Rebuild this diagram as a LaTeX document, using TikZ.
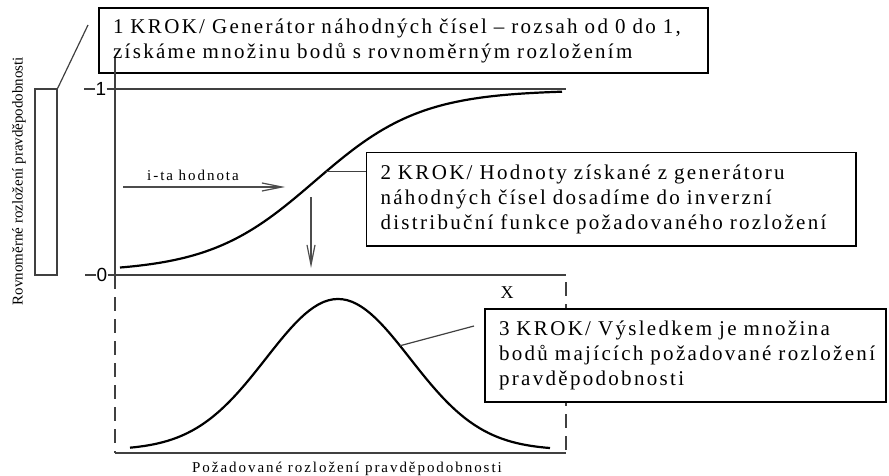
\documentclass[tikz,border=0pt]{standalone}
\usepackage{fontspec}
\setmainfont{Liberation Serif}
\newfontfamily\krokfont[LetterSpace=11]{Liberation Serif}
\newfontfamily\labelfont[LetterSpace=13]{Liberation Serif}
\newfontfamily\tickfont{Liberation Sans}
\usetikzlibrary{arrows.meta,positioning,calc}

\begin{document}
\begin{tikzpicture}[x=0.5pt,y=-0.5pt,
  krok/.style={draw,fill=white,line width=0.6pt,align=left,inner xsep=7pt,inner ysep=0pt,
    font=\krokfont\fontsize{10.5}{12.5}\selectfont},
  axisline/.style={draw=black!75,line width=0.6pt},
  dashaxis/.style={axisline,dash pattern=on 7pt off 4pt},
  curve/.style={line width=1.1pt,line join=round},
  arr/.style={-{Straight Barb[length=10pt,width=4pt]},draw=black!70,line width=0.6pt},
  tick/.style={font=\tickfont\fontsize{9.5}{9.5}\selectfont,inner sep=0pt},
  lbl/.style={font=\labelfont\fontsize{7.5}{9}\selectfont,inner sep=0pt},
  ylbl/.style={font=\rmfamily\fontsize{7.5}{9}\selectfont,inner sep=0pt,rotate=90}]
  \useasboundingbox (0,0) rectangle (889,476);
  % uniform side
  \node[draw=black!75,line width=0.6pt,minimum width=11pt,minimum height=93pt,
    inner sep=0pt] (urect) at (46,182) {};
  \node[ylbl] (ylab) at (19,181) {Rovnoměrné rozložení pravděpodobnosti};
  % axes
  \node[tick] (one) at (101,89) {1};
  \node[tick] (zero) at (102,275) {0};
  \coordinate (ytop) at (115,58);
  \coordinate (orig) at (115,275);
  \coordinate (obot) at (115,453);
  \coordinate (rtop) at (566,282);
  \coordinate (rbot) at (566,453);
  \draw[axisline] (one.west) -- ++(-11,0);
  \draw[axisline] (zero.west) -- ++(-11,0);
  \draw[axisline] (one.east) -- (566,89);
  \draw[axisline] (zero.east) -- (566,275);
  \draw[dashaxis] (orig) -- (obot);
  \draw[dashaxis] (rtop) -- (rbot);
  \draw[axisline] (obot) -- (rbot);
  \node[font=\fontsize{9}{9}\selectfont,inner sep=0pt] (xsym) at (507,293) {X};
  \node[lbl] (xlab) at (347,469) {Požadované rozložení pravděpodobnosti};
  % curves
  \draw[curve] plot[domain=120:562,samples=90]
    (\x,{272-182/(1+exp(-(\x-315)/53))});
  \draw[curve] plot[domain=130:550,samples=90]
    (\x,{450-151*exp(-0.5*((\x-338)/72)^2)});
  % text boxes
  \node[krok,text width=290.5pt,minimum height=32.5pt] (krok1) at (403.5,40.5)
    {1 KROK/ Generátor náhodných čísel – rozsah od 0 do 1,\\
     získáme množinu bodů s rovnoměrným rozložením};
  \node[krok,text width=230.75pt,minimum height=46.75pt] (krok2) at (611.25,199.25)
    {2 KROK/ Hodnoty získané z generátoru\\
     náhodných čísel dosadíme do inverzní\\
     distribuční funkce požadovaného rozložení};
  \node[krok,text width=186.5pt,minimum height=46.5pt] (krok3) at (685.5,355.5)
    {3 KROK/ Výsledkem je množina\\
     bodů majících požadované rozložení\\
     pravděpodobnosti};
  \draw[axisline] (ytop) -- (orig);
  \coordinate (p1) at (88,25);
  \draw[axisline] (urect.north east) -- (p1);
  % pointers to the boxes
  \coordinate (c2) at (326,{272-182/(1+exp(-(326-315)/53))});
  \draw[axisline] (c2) -- (c2 -| krok2.west);
  \coordinate (c3) at (400,{450-151*exp(-0.5*((400-338)/72)^2)});
  \coordinate (p3) at (474,326);
  \draw[axisline] (c3) -- (p3);
  % arrows
  \node[lbl] (ita) at (193,175) {i-ta hodnota};
  \coordinate (a0) at (123,187);
  \coordinate (a1) at (285,187);
  \draw[arr] (a0) -- (a1);
  \coordinate (v0) at (311,197);
  \coordinate (v1) at (311,268);
  \draw[arr] (v0) -- (v1);
\end{tikzpicture}
\end{document}
